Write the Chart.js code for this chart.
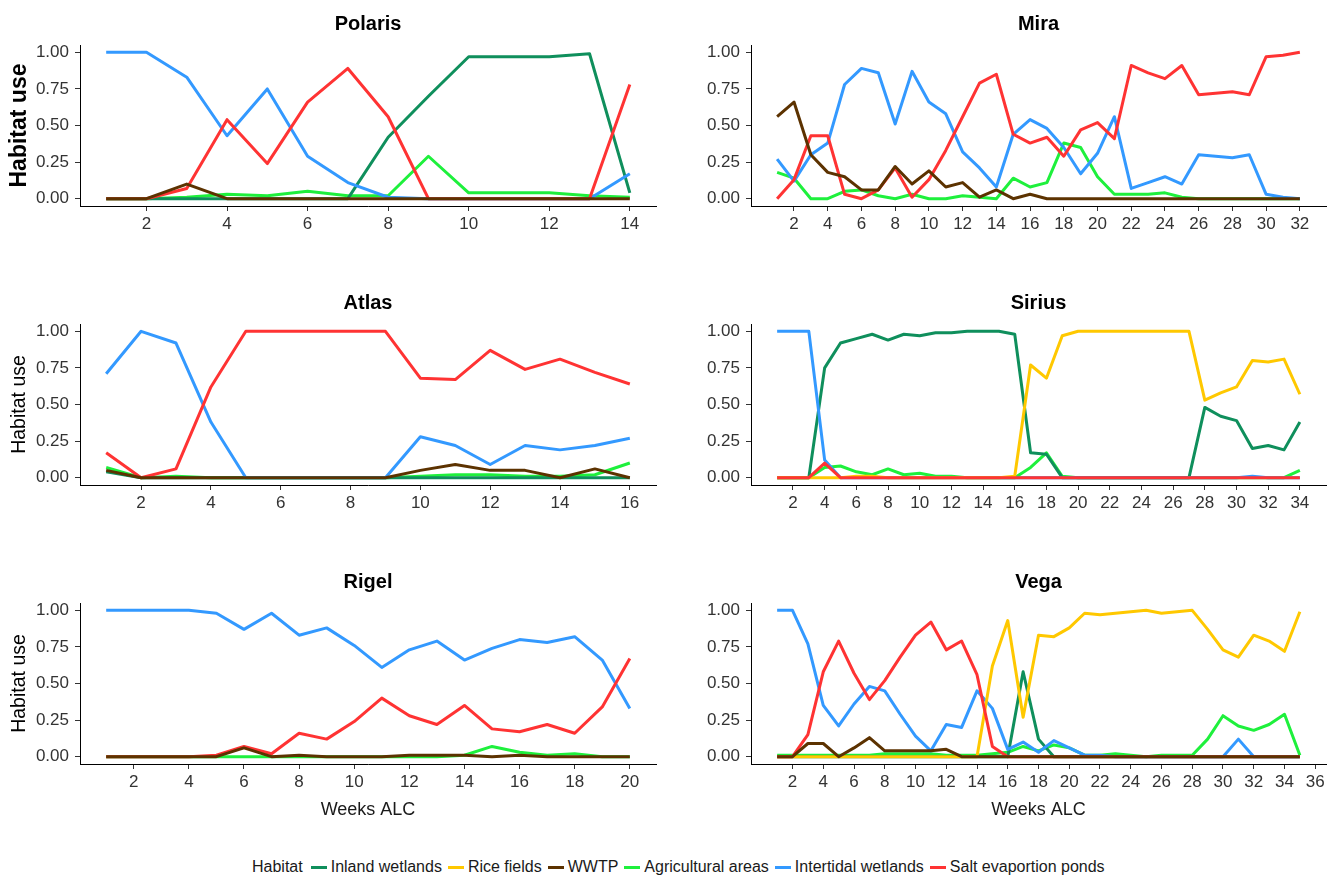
<!DOCTYPE html>
<html>
<head>
<meta charset="utf-8">
<title>Habitat use by week</title>
<script src="https://cdn.jsdelivr.net/npm/chart.js@4.4.1/dist/chart.umd.min.js"></script>
<style>
  html, body { margin: 0; padding: 0; background: #ffffff; }
  body { width: 1336px; height: 879px; position: relative; overflow: hidden;
         font-family: 'Liberation Sans', Arial, sans-serif; }
  canvas { position: absolute; }
  #legend { position: absolute; left: 252px; top: 856px; height: 22px; display: flex;
            align-items: center; font-size: 16px; color: #1a1a1a; white-space: nowrap; }
  #legend .key { display: inline-block; width: 16px; height: 3px; margin: 0 4px 0 6px; }
  #legend .key.first { margin-left: 8px; }
</style>
</head>
<body>
<div id="legend"></div>
<script>
// Habitat categories, their colours and stacking rank (0 = drawn on top)
const habitats = ['Inland wetlands', 'Rice fields', 'WWTP', 'Agricultural areas', 'Intertidal wetlands', 'Salt evaportion ponds'];
const habitatColors = ['#0f8f5c', '#ffc800', '#5c3200', '#1ef03c', '#3399ff', '#ff3333'];
const drawRank = [4, 2, 0, 5, 3, 1];

const yTicks = [0, 0.25, 0.5, 0.75, 1];

// ---- Polaris ----
const polarisWeeks = [1, 2, 3, 4, 5, 6, 7, 8, 9, 10, 11, 12, 13, 14];
const polarisTicks = [2, 4, 6, 8, 10, 12, 14];
const polarisInland = [0, 0, 0, 0, 0, 0, 0, 0.42, 0.70, 0.97, 0.97, 0.97, 0.99, 0.04];
const polarisWWTP = [0, 0, 0.10, 0, 0, 0, 0, 0, 0, 0, 0, 0, 0, 0];
const polarisAgri = [0, 0, 0.01, 0.03, 0.02, 0.05, 0.02, 0.02, 0.29, 0.04, 0.04, 0.04, 0.02, 0.01];
const polarisIntertidal = [1, 1, 0.83, 0.43, 0.75, 0.29, 0.11, 0.01, 0, 0, 0, 0, 0, 0.17];
const polarisSalt = [0, 0, 0.07, 0.54, 0.24, 0.66, 0.89, 0.56, 0, 0, 0, 0, 0, 0.78];

// ---- Mira ----
const miraWeeks = [1, 2, 3, 4, 5, 6, 7, 8, 9, 10, 11, 12, 13, 14, 15, 16, 17, 18, 19, 20, 21, 22, 23, 24, 25, 26, 27, 28, 29, 30, 31, 32];
const miraTicks = [2, 4, 6, 8, 10, 12, 14, 16, 18, 20, 22, 24, 26, 28, 30, 32];
const miraWWTP = [0.56, 0.66, 0.30, 0.18, 0.15, 0.06, 0.06, 0.22, 0.10, 0.19, 0.08, 0.11, 0.01, 0.06, 0, 0.03, 0, 0, 0, 0, 0, 0, 0, 0, 0, 0, 0, 0, 0, 0, 0, 0];
const miraAgri = [0.18, 0.14, 0, 0, 0.05, 0.06, 0.02, 0, 0.03, 0, 0, 0.02, 0.01, 0, 0.14, 0.08, 0.11, 0.38, 0.35, 0.15, 0.03, 0.03, 0.03, 0.04, 0.01, 0, 0, 0, 0, 0, 0, 0];
const miraIntertidal = [0.27, 0.12, 0.30, 0.38, 0.78, 0.89, 0.86, 0.51, 0.87, 0.66, 0.58, 0.32, 0.21, 0.08, 0.44, 0.54, 0.48, 0.35, 0.17, 0.31, 0.56, 0.07, 0.11, 0.15, 0.10, 0.30, 0.29, 0.28, 0.30, 0.03, 0.01, 0];
const miraSalt = [0, 0.13, 0.43, 0.43, 0.03, 0, 0.06, 0.21, 0.01, 0.13, 0.33, 0.56, 0.79, 0.85, 0.44, 0.38, 0.42, 0.29, 0.47, 0.52, 0.41, 0.91, 0.86, 0.82, 0.91, 0.71, 0.72, 0.73, 0.71, 0.97, 0.98, 1.00];

// ---- Atlas ----
const atlasWeeks = [1, 2, 3, 4, 5, 6, 7, 8, 9, 10, 11, 12, 13, 14, 15, 16];
const atlasTicks = [2, 4, 6, 8, 10, 12, 14, 16];
const atlasInland = [0.04, 0, 0, 0, 0, 0, 0, 0, 0, 0, 0, 0, 0, 0, 0, 0];
const atlasWWTP = [0.05, 0, 0, 0, 0, 0, 0, 0, 0, 0.05, 0.09, 0.05, 0.05, 0, 0.06, 0];
const atlasAgri = [0.07, 0, 0.01, 0, 0, 0, 0, 0, 0, 0.01, 0.02, 0.02, 0.01, 0.01, 0.02, 0.10];
const atlasIntertidal = [0.71, 1.00, 0.92, 0.38, 0, 0, 0, 0, 0, 0.28, 0.22, 0.09, 0.22, 0.19, 0.22, 0.27];
const atlasSalt = [0.17, 0, 0.06, 0.62, 1, 1, 1, 1, 1, 0.68, 0.67, 0.87, 0.74, 0.81, 0.72, 0.64];

// ---- Sirius ----
const siriusWeeks = [1, 2, 3, 4, 5, 6, 7, 8, 9, 10, 11, 12, 13, 14, 15, 16, 17, 18, 19, 20, 21, 22, 23, 24, 25, 26, 27, 28, 29, 30, 31, 32, 33, 34];
const siriusTicks = [2, 4, 6, 8, 10, 12, 14, 16, 18, 20, 22, 24, 26, 28, 30, 32, 34];
const siriusInland = [0, 0, 0, 0.75, 0.92, 0.95, 0.98, 0.94, 0.98, 0.97, 0.99, 0.99, 1, 1, 1, 0.98, 0.17, 0.16, 0, 0, 0, 0, 0, 0, 0, 0, 0, 0.48, 0.42, 0.39, 0.20, 0.22, 0.19, 0.38];
const siriusRice = [0, 0, 0, 0, 0, 0.01, 0.01, 0, 0, 0, 0, 0, 0, 0, 0, 0.01, 0.77, 0.68, 0.97, 1, 1, 1, 1, 1, 1, 1, 1, 0.53, 0.58, 0.62, 0.80, 0.79, 0.81, 0.57];
const siriusAgri = [0, 0, 0, 0.07, 0.08, 0.04, 0.02, 0.06, 0.02, 0.03, 0.01, 0.01, 0, 0, 0, 0, 0.07, 0.17, 0.01, 0, 0, 0, 0, 0, 0, 0, 0, 0, 0, 0, 0, 0, 0, 0.05];
const siriusIntertidal = [1, 1, 1, 0.12, 0, 0, 0, 0, 0, 0, 0, 0, 0, 0, 0, 0, 0, 0, 0, 0, 0, 0, 0, 0, 0, 0, 0, 0, 0, 0, 0.01, 0, 0, 0];
const siriusSalt = [0, 0, 0, 0.10, 0, 0, 0, 0, 0, 0, 0, 0, 0, 0, 0, 0, 0, 0, 0, 0, 0, 0, 0, 0, 0, 0, 0, 0, 0, 0, 0, 0, 0, 0];

// ---- Rigel ----
const rigelWeeks = [1, 2, 3, 4, 5, 6, 7, 8, 9, 10, 11, 12, 13, 14, 15, 16, 17, 18, 19, 20];
const rigelTicks = [2, 4, 6, 8, 10, 12, 14, 16, 18, 20];
const rigelWWTP = [0, 0, 0, 0, 0, 0.06, 0, 0.01, 0, 0, 0, 0.01, 0.01, 0.01, 0, 0.01, 0, 0, 0, 0];
const rigelAgri = [0, 0, 0, 0, 0, 0, 0, 0, 0, 0, 0, 0, 0, 0.01, 0.07, 0.03, 0.01, 0.02, 0, 0];
const rigelIntertidal = [1, 1, 1, 1, 0.98, 0.87, 0.98, 0.83, 0.88, 0.76, 0.61, 0.73, 0.79, 0.66, 0.74, 0.80, 0.78, 0.82, 0.66, 0.33];
const rigelSalt = [0, 0, 0, 0, 0.01, 0.07, 0.02, 0.16, 0.12, 0.24, 0.40, 0.28, 0.22, 0.35, 0.19, 0.17, 0.22, 0.16, 0.34, 0.67];

// ---- Vega ----
const vegaWeeks = [1, 2, 3, 4, 5, 6, 7, 8, 9, 10, 11, 12, 13, 14, 15, 16, 17, 18, 19, 20, 21, 22, 23, 24, 25, 26, 27, 28, 29, 30, 31, 32, 33, 34, 35];
const vegaTicks = [2, 4, 6, 8, 10, 12, 14, 16, 18, 20, 22, 24, 26, 28, 30, 32, 34, 36];
const vegaInland = [0, 0, 0, 0, 0, 0, 0, 0, 0, 0, 0, 0, 0, 0, 0, 0, 0.58, 0.12, 0, 0, 0, 0, 0, 0, 0, 0, 0, 0, 0, 0, 0, 0, 0, 0, 0];
const vegaRice = [0, 0, 0, 0, 0, 0, 0, 0, 0, 0, 0, 0, 0, 0, 0.62, 0.93, 0.27, 0.83, 0.82, 0.88, 0.98, 0.97, 0.98, 0.99, 1, 0.98, 0.99, 1, 0.87, 0.73, 0.68, 0.83, 0.79, 0.72, 0.99];
const vegaWWTP = [0, 0, 0.09, 0.09, 0, 0.06, 0.13, 0.04, 0.04, 0.04, 0.04, 0.05, 0, 0, 0, 0, 0, 0, 0, 0, 0, 0, 0, 0, 0, 0, 0, 0, 0, 0, 0, 0, 0, 0, 0];
const vegaAgri = [0.01, 0.01, 0.01, 0.01, 0.01, 0.01, 0.01, 0.02, 0.02, 0.02, 0.02, 0.01, 0.01, 0.01, 0.02, 0.03, 0.07, 0.04, 0.08, 0.06, 0.01, 0.01, 0.02, 0.01, 0, 0.01, 0.01, 0.01, 0.12, 0.28, 0.21, 0.18, 0.22, 0.29, 0.01];
const vegaIntertidal = [1, 1, 0.77, 0.35, 0.21, 0.36, 0.48, 0.45, 0.29, 0.14, 0.04, 0.22, 0.20, 0.45, 0.33, 0.05, 0.10, 0.03, 0.11, 0.06, 0.01, 0.01, 0, 0, 0, 0, 0, 0, 0, 0, 0.12, 0, 0, 0, 0];
const vegaSalt = [0, 0, 0.15, 0.58, 0.79, 0.57, 0.39, 0.52, 0.68, 0.83, 0.92, 0.73, 0.79, 0.56, 0.07, 0, 0, 0, 0, 0, 0, 0, 0, 0, 0, 0, 0, 0, 0, 0, 0, 0, 0, 0, 0];

// Panels: series listed in the same order as `habitats` (null = habitat not used)
const panels = [
  { title: 'Polaris', col: 0, row: 0, weeks: polarisWeeks, ticks: polarisTicks,
    series: [polarisInland, null, polarisWWTP, polarisAgri, polarisIntertidal, polarisSalt] },
  { title: 'Mira', col: 1, row: 0, weeks: miraWeeks, ticks: miraTicks,
    series: [null, null, miraWWTP, miraAgri, miraIntertidal, miraSalt] },
  { title: 'Atlas', col: 0, row: 1, weeks: atlasWeeks, ticks: atlasTicks,
    series: [atlasInland, null, atlasWWTP, atlasAgri, atlasIntertidal, atlasSalt] },
  { title: 'Sirius', col: 1, row: 1, weeks: siriusWeeks, ticks: siriusTicks,
    series: [siriusInland, siriusRice, null, siriusAgri, siriusIntertidal, siriusSalt] },
  { title: 'Rigel', col: 0, row: 2, weeks: rigelWeeks, ticks: rigelTicks,
    series: [null, null, rigelWWTP, rigelAgri, rigelIntertidal, rigelSalt] },
  { title: 'Vega', col: 1, row: 2, weeks: vegaWeeks, ticks: vegaTicks,
    series: [vegaInland, vegaRice, vegaWWTP, vegaAgri, vegaIntertidal, vegaSalt] }
];

const FONT = "'Liberation Sans', Arial, sans-serif";
Chart.defaults.font.family = FONT;

// Grid geometry (pixels)
const COL_LEFT = [0, 668];
const COL_W = 668;
const ROW_TOP = [0, 279, 558];
const PLOT_TOP = 45;        // inside each canvas
const PLOT_BOTTOM = 206;    // inside each canvas
const Y_AXIS_W = [80, 83];
const RIGHT_PAD = [12, 10];

// Panel heading centred over the plotting area
const panelTitle = {
  id: 'panelTitle',
  afterDraw(chart, args, opts) {
    const { ctx, chartArea } = chart;
    ctx.save();
    ctx.font = 'bold 20px ' + FONT;
    ctx.fillStyle = '#000';
    ctx.textAlign = 'center';
    ctx.textBaseline = 'middle';
    ctx.fillText(opts.text, (chartArea.left + chartArea.right) / 2, 24);
    ctx.restore();
  }
};

function makePanel(p) {
  const canvas = document.createElement('canvas');
  const height = p.row === 2 ? 270 : 245;
  canvas.width = COL_W;
  canvas.height = height;
  canvas.style.left = COL_LEFT[p.col] + 'px';
  canvas.style.top = ROW_TOP[p.row] + 'px';
  document.body.appendChild(canvas);

  const first = p.weeks[0], last = p.weeks[p.weeks.length - 1];
  const expand = 0.05 * (last - first);

  const datasets = [];
  habitats.forEach((name, i) => {
    const vals = p.series[i];
    if (!vals) return;
    datasets.push({
      label: name,
      data: p.weeks.map((w, k) => ({ x: w, y: vals[k] })),
      borderColor: habitatColors[i],
      backgroundColor: habitatColors[i],
      borderWidth: 3,
      pointRadius: 0,
      tension: 0,
      fill: false,
      borderJoinStyle: 'round',
      borderCapStyle: 'butt',
      order: drawRank[i]
    });
  });

  const leftCol = p.col === 0;
  const boldY = p.title === 'Polaris';

  new Chart(canvas, {
    type: 'line',
    data: { datasets },
    plugins: [panelTitle],
    options: {
      responsive: false,
      animation: false,
      devicePixelRatio: 1,
      events: [],
      layout: { padding: { left: 0, right: RIGHT_PAD[p.col], top: PLOT_TOP, bottom: 0 } },
      plugins: {
        legend: { display: false },
        tooltip: { enabled: false },
        title: { display: false },
        panelTitle: { text: p.title }
      },
      scales: {
        x: {
          type: 'linear',
          position: 'bottom',
          min: first - expand,
          max: last + expand,
          bounds: 'data',
          afterBuildTicks: s => { s.ticks = p.ticks.map(v => ({ value: v })); },
          afterFit: s => { s.height = height - PLOT_BOTTOM; s.paddingLeft = 0; s.paddingRight = 0; },
          ticks: { autoSkip: false, maxRotation: 0, minRotation: 0, color: '#333',
                   font: { size: 17 }, padding: 3, callback: v => String(v) },
          grid: { display: true, drawOnChartArea: false, drawTicks: true, tickLength: 5,
                  color: '#333', tickWidth: 1 },
          border: { display: true, color: '#000', width: 1 },
          title: p.row === 2
            ? { display: true, text: 'Weeks ALC', color: '#1a1a1a', font: { size: 18 },
                padding: { top: 0, bottom: 7 } }
            : { display: false }
        },
        y: {
          type: 'linear',
          position: 'left',
          min: -0.05,
          max: 1.05,
          bounds: 'data',
          afterBuildTicks: s => { s.ticks = yTicks.map(v => ({ value: v })); },
          afterFit: s => { s.width = Y_AXIS_W[p.col]; s.paddingTop = 0; s.paddingBottom = 0; },
          ticks: { color: '#333', font: { size: 17 }, padding: 6,
                   callback: v => Number(v).toFixed(2) },
          grid: { display: true, drawOnChartArea: false, drawTicks: true, tickLength: 5,
                  color: '#333', tickWidth: 1 },
          border: { display: true, color: '#000', width: 1 },
          title: leftCol
            ? { display: true, text: 'Habitat use', color: '#000',
                font: boldY ? { size: 23, weight: 'bold' } : { size: 19.5 },
                padding: { top: boldY ? 6 : 8, bottom: 0 } }
            : { display: false }
        }
      }
    }
  });
}

panels.forEach(makePanel);

// Shared legend built from the habitat list
const legend = document.getElementById('legend');
const legendTitle = document.createElement('span');
legendTitle.textContent = 'Habitat';
legend.appendChild(legendTitle);
habitats.forEach((name, i) => {
  const key = document.createElement('span');
  key.className = 'key' + (i === 0 ? ' first' : '');
  key.style.background = habitatColors[i];
  legend.appendChild(key);
  const label = document.createElement('span');
  label.textContent = name;
  legend.appendChild(label);
});
</script>
</body>
</html>
